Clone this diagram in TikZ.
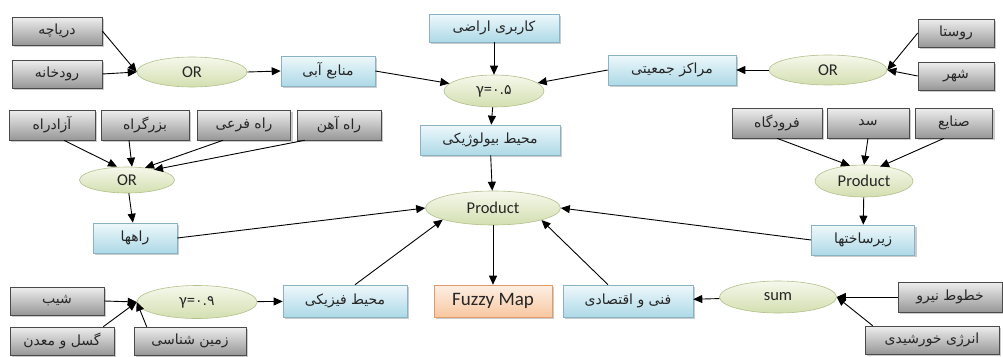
\documentclass[tikz,border=0pt]{standalone}
\usepackage{fontspec}
\setmainfont{Carlito}
\newfontfamily\fafont[Script=Arabic]{DejaVu Sans}
\TeXXeTstate=1
\usetikzlibrary{arrows.meta,shadows,calc,shapes.geometric}
\definecolor{gtop}{HTML}{EEEEEE}
\definecolor{gbot}{HTML}{979797}
\definecolor{gbord}{HTML}{4A4A4A}
\definecolor{btop}{HTML}{EEF8FB}
\definecolor{bbot}{HTML}{ADD9E7}
\definecolor{bbord}{HTML}{8AB2C2}
\definecolor{etop}{HTML}{F6F8EC}
\definecolor{ebot}{HTML}{D3DFB0}
\definecolor{ebord}{HTML}{B2C08C}
\definecolor{ftop}{HTML}{FDEFE4}
\definecolor{fbot}{HTML}{F8C7A0}
\definecolor{fbord}{HTML}{E09B68}
\newcommand{\fat}[1]{\beginR #1\endR}
\tikzset{
  base/.style={rectangle, inner sep=0pt, minimum height=30pt, line width=0.6pt,
    font=\fafont\fontsize{14}{16}\selectfont, text=black!85,
    drop shadow={shadow xshift=2pt, shadow yshift=-2pt, opacity=0.4}},
  gbox/.style={base, draw=gbord, top color=gtop, bottom color=gbot, minimum width=#1},
  gbox/.default=90pt,
  bbox/.style={base, draw=bbord, top color=btop, bottom color=bbot, minimum width=#1},
  bbox/.default=90pt,
  fbox/.style={base, draw=fbord, top color=ftop, bottom color=fbot, minimum width=#1,
    font=\fontsize{19}{21}\selectfont},
  oper/.style={ellipse, inner sep=0pt, draw=ebord, line width=0.6pt, top color=etop, bottom color=ebot,
    font=\fontsize{16.5}{18}\selectfont, text=black!85},
  arr/.style={-{Triangle[length=9pt,width=8pt]}, line width=0.9pt, black}
}
\begin{document}
\begin{tikzpicture}[x=1pt,y=-1pt]
\useasboundingbox (0,0) rectangle (1003,356);
% top row
\node[gbox=90, minimum height=28] (darya) at (57,31) {دریاچه};
\node[gbox=90, minimum height=28] (rud) at (57,74) {رودخانه};
\node[oper, minimum width=110, minimum height=30] (orL) at (192,72) {OR};
\node[bbox=94] (manabe) at (328,71) {\fat{منابع آبی}};
\node[bbox=130, minimum height=28] (karbari) at (494,28) {\fat{کاربری اراضی}};
\node[oper, minimum width=100, minimum height=32] (y05) at (494,91) {γ={\fafont\fontsize{14}{16}\selectfont ۰.۵}};
\node[bbox=128] (marakez) at (672,70) {\fat{مراکز جمعیتی}};
\node[oper, minimum width=118, minimum height=30] (orR) at (828,70) {OR};
\node[gbox=76, minimum height=28] (rusta) at (956,33) {روستا};
\node[gbox=76, minimum height=28] (shahr) at (956,76) {شهر};
% second row
\node[gbox=86] (azad) at (52,125) {آزادراه};
\node[gbox=88] (bozorg) at (145,125) {بزرگراه};
\node[gbox=93] (farei) at (244,125) {\fat{راه فرعی}};
\node[gbox=84] (ahan) at (339,125) {\fat{راه آهن}};
\node[oper, minimum width=95, minimum height=26] (orM) at (127,180) {OR};
\node[bbox=84] (rahha) at (135,238) {راهها};
\node[bbox=140] (bio) at (490,140) {\fat{محیط بیولوژیکی}};
\node[oper, minimum width=135, minimum height=34] (prod) at (493,208) {Product};
\node[gbox=90] (forud) at (777,123) {فرودگاه};
\node[gbox=82] (sad) at (868,123) {سد};
\node[gbox=77] (sanaye) at (954,123) {صنایع};
\node[oper, minimum width=98, minimum height=32] (prodR) at (864,181) {Product};
\node[bbox=103] (zir) at (863,240) {زیرساختها};
% bottom row
\node[gbox=94, minimum height=28] (shib) at (57,301) {شیب};
\node[gbox=104, minimum height=28] (gosal) at (62,341) {\fat{گسل و معدن}};
\node[gbox=112, minimum height=28] (zamin) at (190,341) {\fat{زمین شناسی}};
\node[oper, minimum width=120, minimum height=33] (y09) at (197,302) {γ={\fafont\fontsize{14}{16}\selectfont ۰.۹}};
\node[bbox=124, minimum height=32] (fiziki) at (345,301) {\fat{محیط فیزیکی}};
\node[fbox=118, minimum height=32] (fuzzy) at (493,301) {Fuzzy Map};
\node[bbox=130, minimum height=32] (fanni) at (628,301) {\fat{فنی و اقتصادی}};
\node[oper, minimum width=117, minimum height=32] (sum) at (778,297) {sum};
\node[gbox=104] (khotut) at (950,297) {\fat{خطوط نیرو}};
\node[gbox=134, minimum height=28] (energy) at (932,340) {\fat{انرژی خورشیدی}};
% connectors
\draw[arr] (darya.east) -- (orL.west);
\draw[arr] (rud.east) -- (orL.west);
\draw[arr] (orL.east) -- (manabe.west);
\draw[arr] (manabe.east) -- (y05);
\draw[arr] (karbari) -- (y05);
\draw[arr] (marakez.west) -- (y05);
\draw[arr] (orR.west) -- (marakez.east);
\draw[arr] (rusta.west) -- (orR.east);
\draw[arr] (shahr.west) -- (orR.east);
\draw[arr] (y05) -- (bio);
\draw[arr] (bio) -- (prod);
\draw[arr] ($(azad.south)+(12,0)$) -- ($(orM.north)+(-10,0)$);
\draw[arr] ($(bozorg.south)+(-16,0)$) -- ($(orM.north)+(5,0)$);
\draw[arr] ($(farei.south)+(-21,0)$) -- ($(orM.north)+(18,1)$);
\draw[arr] ($(ahan.south west)+(8,0)$) -- ($(orM.north)+(27,3)$);
\draw[arr] (orM) -- (rahha);
\draw[arr] (rahha.east) -- (prod.west);
\draw[arr] (forud.south) -- ($(prodR.north)+(-14,1)$);
\draw[arr] (sad.south) -- (prodR.north);
\draw[arr] ($(sanaye.south)+(-10,0)$) -- ($(prodR.north)+(16,2)$);
\draw[arr] (prodR) -- (zir);
\draw[arr] (zir.west) -- (prod.east);
\draw[arr] ($(fiziki.north)+(10,0)$) -- (prod.193);
\draw[arr] ($(fanni.north)+(-20,0)$) -- (prod.-14);
\draw[arr] (prod) -- (fuzzy);
\draw[arr] (sum) -- (fanni);
\draw[arr] (khotut.west) -- (sum.east);
\draw[arr] ($(energy.north west)+(8,0)$) -- (sum.east);
\draw[arr] (shib.east) -- (y09.west);
\draw[arr] ($(gosal.north east)+(-11,0)$) -- (y09.west);
\draw[arr] ($(zamin.north west)+(13,0)$) -- (y09.west);
\draw[arr] (y09) -- (fiziki);
\end{tikzpicture}
\end{document}
